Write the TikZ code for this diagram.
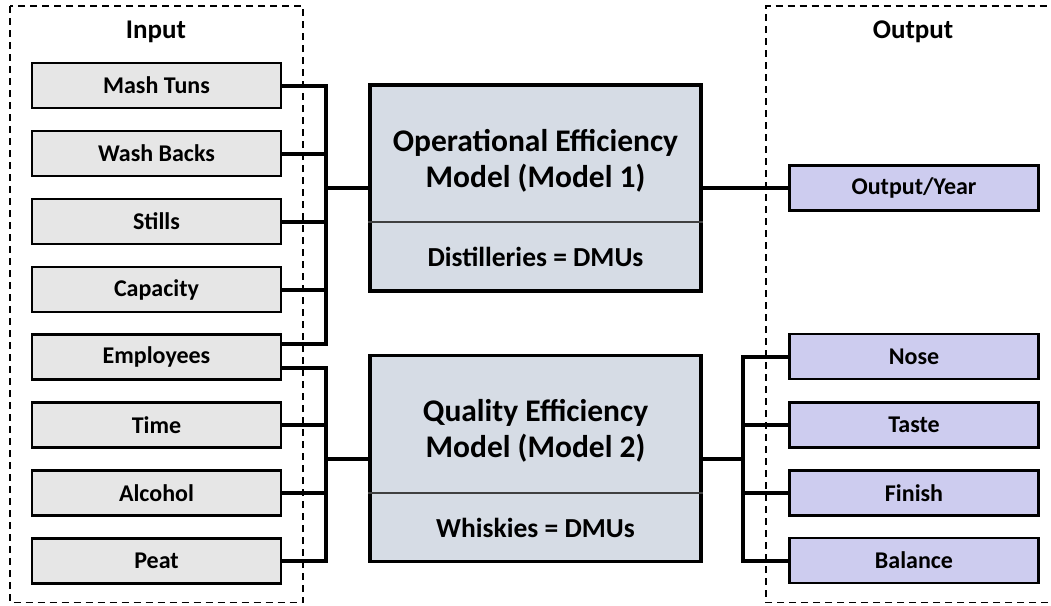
\documentclass[tikz,border=0pt]{standalone}
\usepackage{fontspec}
\setmainfont{Carlito}
\usepackage{tikz}
\usepackage{xcolor}

\definecolor{inputgray}{HTML}{E6E6E6}
\definecolor{modelblue}{HTML}{D6DCE5}
\definecolor{outlilac}{HTML}{CDCCEF}

\tikzset{
    inbox/.style={draw=black, line width=2.6pt, fill=inputgray,
        minimum width=249pt, minimum height=45pt, inner sep=0pt,
        font=\fontsize{24}{29}\selectfont\bfseries},
    outbox/.style={inbox, fill=outlilac},
    modelbox/.style={draw=black, line width=3.6pt, fill=modelblue,
        minimum width=331pt, minimum height=206pt, inner sep=0pt},
    modeltitle/.style={align=center, inner sep=0pt,
        font=\fontsize{31.5}{36}\selectfont\bfseries},
    modeldmu/.style={inner sep=0pt, font=\fontsize{27.5}{32}\selectfont\bfseries},
    divider/.style={line width=1.2pt, color=black!75},
    groupbox/.style={draw=black, line width=1.3pt, dash pattern=on 7pt off 5pt},
    grouptitle/.style={inner sep=0pt, font=\fontsize{27}{32}\selectfont\bfseries},
    wire/.style={line width=4pt, line join=miter, line cap=rect}
}

\begin{document}
\begin{tikzpicture}[x=1pt, y=-1pt]
    \useasboundingbox (0,0) rectangle (1051,605);

    % dashed groups
    \draw[groupbox] (10,6) rectangle (303,602.5);
    \draw[groupbox] (1060,602.5) -- (766,602.5) -- (766,6) -- (1060,6);
    \node[grouptitle] (intitle) at (156,32) {Input};
    \node[grouptitle] (outtitle) at (913,32) {Output};

    % inputs
    \node[inbox] (mash) at (156.5,85.5) {Mash Tuns};
    \node[inbox] (wash) at (156.5,153.5) {Wash Backs};
    \node[inbox] (stills) at (156.5,221.5) {Stills};
    \node[inbox] (capacity) at (156.5,289.5) {Capacity};
    \node[inbox] (employees) at (156.5,357) {Employees};
    \node[inbox] (time) at (156.5,425) {Time};
    \node[inbox] (alcohol) at (156.5,493) {Alcohol};
    \node[inbox] (peat) at (156.5,561) {Peat};

    % models
    \node[modelbox] (m1) at (535.5,188) {};
    \node[modeltitle] (m1title) at (535.5,161) {Operational Efficiency\\Model (Model 1)};
    \node[modeldmu] (m1dmu) at (535.5,256.5) {Distilleries = DMUs};
    \draw[divider] (m1.west |- 0,222) -- (m1.east |- 0,222);

    \node[modelbox] (m2) at (535.5,458.5) {};
    \node[modeltitle] (m2title) at (535.5,431) {Quality Efficiency\\Model (Model 2)};
    \node[modeldmu] (m2dmu) at (535.5,527.5) {Whiskies = DMUs};
    \draw[divider] (m2.west |- 0,493) -- (m2.east |- 0,493);

    % outputs
    \node[outbox] (year) at (914,188) {Output/Year};
    \node[outbox] (nose) at (914,356.5) {Nose};
    \node[outbox] (taste) at (914,425) {Taste};
    \node[outbox] (finish) at (914,493) {Finish};
    \node[outbox] (balance) at (914,560.5) {Balance};

    % buses
    \coordinate (busa) at (326,188);
    \coordinate (busb) at (326,458.5);
    \coordinate (busc) at (743,458.5);

    \draw[wire] (mash.east) -| (busa) |- ([yshift=13.5pt]employees.east);
    \draw[wire] (wash.east) -| (busa);
    \draw[wire] (stills.east) -| (busa);
    \draw[wire] (capacity.east) -| (busa);
    \draw[wire] (busa) -- (m1.west);

    \draw[wire] ([yshift=-11pt]employees.east) -| (busb) |- (peat.east);
    \draw[wire] (time.east) -| (busb);
    \draw[wire] (alcohol.east) -| (busb);
    \draw[wire] (busb) -- (m2.west);

    \draw[wire] (m1.east) -- (year.west);

    \draw[wire] (nose.west) -| (busc) |- (balance.west);
    \draw[wire] (taste.west) -| (busc);
    \draw[wire] (finish.west) -| (busc);
    \draw[wire] (m2.east) -- (busc);
\end{tikzpicture}
\end{document}
